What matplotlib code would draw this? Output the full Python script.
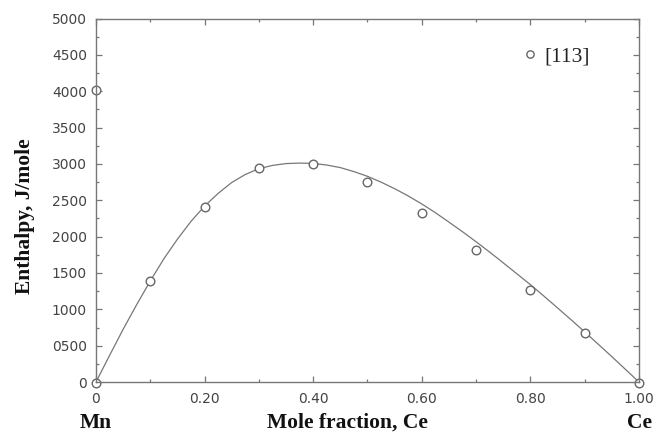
import matplotlib
matplotlib.use("Agg")
import matplotlib.pyplot as plt
from matplotlib.ticker import MultipleLocator, FixedLocator

# Experimental points [113]
exp_x = [0.0, 0.0, 0.1, 0.2, 0.3, 0.4, 0.5, 0.6, 0.7, 0.8, 0.9, 1.0]
exp_h = [4020, -20, 1390, 2405, 2940, 3000, 2750, 2325, 1820, 1270, 670, -20]

# Calculated curve
curve_x = [0.0, 0.025, 0.05, 0.075, 0.1, 0.125, 0.15, 0.175, 0.2, 0.225,
           0.25, 0.275, 0.3, 0.325, 0.35, 0.375, 0.4, 0.425, 0.45, 0.475,
           0.5, 0.525, 0.55, 0.575, 0.6, 0.625, 0.65, 0.675, 0.7, 0.725,
           0.75, 0.775, 0.8, 0.825, 0.85, 0.875, 0.9, 0.925, 0.95, 0.975, 1.0]
curve_h = [0, 365, 725, 1065, 1390, 1695, 1965, 2210, 2420, 2595,
           2745, 2855, 2935, 2980, 3005, 3012, 3008, 2985, 2950, 2895,
           2830, 2750, 2660, 2560, 2450, 2330, 2200, 2068, 1930, 1788,
           1640, 1490, 1340, 1182, 1020, 857, 690, 520, 350, 175, 0]

x_ticks = [0, 0.2, 0.4, 0.6, 0.8, 1.0]
x_ticklabels = ["0", "0.20", "0.40", "0.60", "0.80", "1.00"]
y_ticks = [0, 500, 1000, 1500, 2000, 2500, 3000, 3500, 4000, 4500, 5000]
y_ticklabels = ["0", "0500", "1000", "1500", "2000", "2500", "3000",
                "3500", "4000", "4500", "5000"]

fig = plt.figure(figsize=(6.56, 4.32), dpi=100)
ax = fig.add_axes([0.1463, 0.1157, 0.974 - 0.1463, 0.957 - 0.1157])

line_col = "#777777"
ax.plot(curve_x, curve_h, color=line_col, lw=0.9)
ax.plot(exp_x, exp_h, linestyle="none", marker="o", ms=6.2, mfc="white",
        mec="#666666", mew=1.0, clip_on=False, label="[113]")

ax.set_xlim(0, 1)
ax.set_ylim(0, 5000)

for s in ax.spines.values():
    s.set_color("#777777")
    s.set_linewidth(1.0)

ax.xaxis.set_major_locator(FixedLocator(x_ticks))
ax.set_xticklabels(x_ticklabels)
ax.xaxis.set_minor_locator(MultipleLocator(0.1))
ax.yaxis.set_major_locator(FixedLocator(y_ticks))
ax.set_yticklabels(y_ticklabels)
ax.yaxis.set_minor_locator(MultipleLocator(250))

ax.tick_params(which="both", direction="in", top=True, right=True,
               color="#777777", width=0.9)
ax.tick_params(which="major", length=4)
ax.tick_params(which="minor", length=2.5)
ax.tick_params(axis="both", which="major", labelsize=10,
               labelcolor="#444444")
ax.tick_params(axis="x", which="major", pad=7)
ax.tick_params(axis="y", which="major", pad=6.5)
for lab in ax.get_xticklabels() + ax.get_yticklabels():
    lab.set_family("DejaVu Sans")

serif_bold = dict(family="Liberation Serif", fontweight="bold", fontsize=15.5,
                  color="#111111")
fig.text(96 / 656, 1 - 423 / 432, "Mn", ha="center", va="center", **serif_bold)
fig.text(347 / 656, 1 - 423 / 432, "Mole fraction, Ce", ha="center",
         va="center", **serif_bold)
fig.text(639 / 656, 1 - 423 / 432, "Ce", ha="center", va="center", **serif_bold)
fig.text(25 / 656, 1 - 216 / 432, "Enthalpy, J/mole", ha="center",
         va="center", rotation=90, **serif_bold)

leg = ax.legend(loc="center left", bbox_to_anchor=(0.7814, 0.897),
                frameon=False, handlelength=0.9, handletextpad=0.2,
                borderpad=0, borderaxespad=0, markerscale=0.85,
                prop={"family": "Liberation Serif", "size": 15.5})
for t in leg.get_texts():
    t.set_color("#222222")

fig.savefig("out.png", dpi=100)
